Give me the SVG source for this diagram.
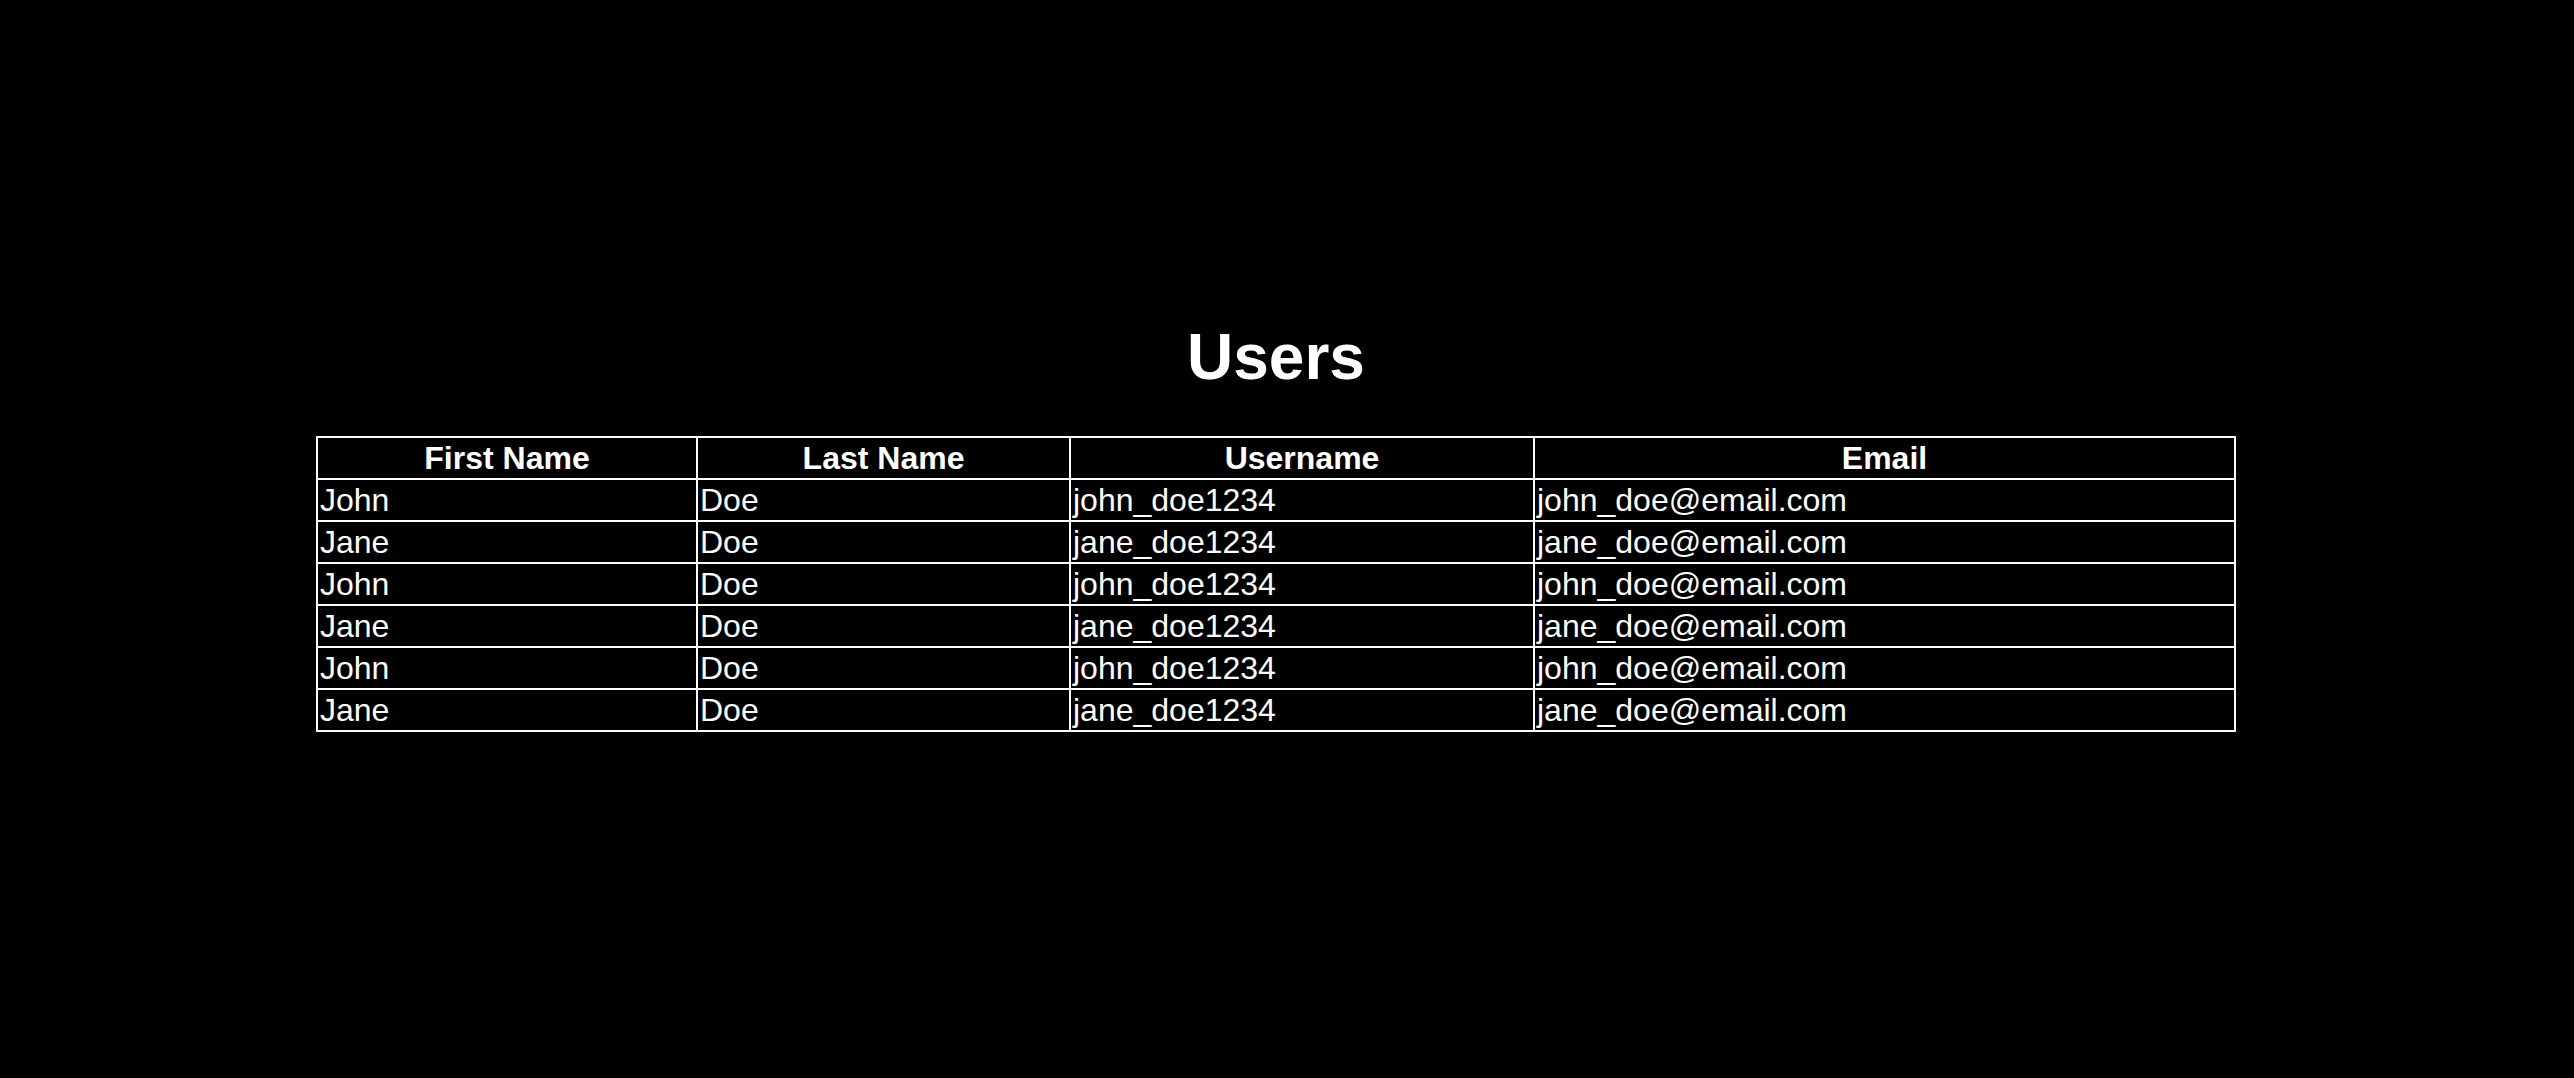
<svg xmlns="http://www.w3.org/2000/svg" width="2574" height="1078" viewBox="0 0 2574 1078">
<style>
text{font-family:"Liberation Sans",Arial,Helvetica,sans-serif;fill:#fff}
.t{font-size:64px;font-weight:bold;text-anchor:middle}
.h{font-size:32px;font-weight:bold;text-anchor:middle}
.c{font-size:32px}
.g line,.g rect{stroke:#fff;stroke-width:2;fill:none}
</style>
<rect width="2574" height="1078" fill="#000"/>
<g id="title"><text class="t" x="1276" y="379">Users</text></g>
<g id="grid" class="g">
<rect x="317" y="437" width="1918" height="294"/>
<line x1="317" y1="479" x2="2235" y2="479"/>
<line x1="317" y1="521" x2="2235" y2="521"/>
<line x1="317" y1="563" x2="2235" y2="563"/>
<line x1="317" y1="605" x2="2235" y2="605"/>
<line x1="317" y1="647" x2="2235" y2="647"/>
<line x1="317" y1="689" x2="2235" y2="689"/>
<line x1="697" y1="437" x2="697" y2="731"/>
<line x1="1070" y1="437" x2="1070" y2="731"/>
<line x1="1534" y1="437" x2="1534" y2="731"/>
</g>
<g id="header">
<text class="h" x="507" y="468.7">First Name</text>
<text class="h" x="883.5" y="468.7">Last Name</text>
<text class="h" x="1302" y="468.7">Username</text>
<text class="h" x="1884.5" y="468.7">Email</text>
</g>
<g id="row1">
<text class="c" x="320" y="510.7">John</text><text class="c" x="700" y="510.7">Doe</text><text class="c" x="1073" y="510.7">john_doe1234</text><text class="c" x="1537" y="510.7">john_doe@email.com</text>
</g>
<g id="row2">
<text class="c" x="320" y="552.7">Jane</text><text class="c" x="700" y="552.7">Doe</text><text class="c" x="1073" y="552.7">jane_doe1234</text><text class="c" x="1537" y="552.7">jane_doe@email.com</text>
</g>
<g id="row3">
<text class="c" x="320" y="594.7">John</text><text class="c" x="700" y="594.7">Doe</text><text class="c" x="1073" y="594.7">john_doe1234</text><text class="c" x="1537" y="594.7">john_doe@email.com</text>
</g>
<g id="row4">
<text class="c" x="320" y="636.7">Jane</text><text class="c" x="700" y="636.7">Doe</text><text class="c" x="1073" y="636.7">jane_doe1234</text><text class="c" x="1537" y="636.7">jane_doe@email.com</text>
</g>
<g id="row5">
<text class="c" x="320" y="678.7">John</text><text class="c" x="700" y="678.7">Doe</text><text class="c" x="1073" y="678.7">john_doe1234</text><text class="c" x="1537" y="678.7">john_doe@email.com</text>
</g>
<g id="row6">
<text class="c" x="320" y="720.7">Jane</text><text class="c" x="700" y="720.7">Doe</text><text class="c" x="1073" y="720.7">jane_doe1234</text><text class="c" x="1537" y="720.7">jane_doe@email.com</text>
</g>
</svg>
